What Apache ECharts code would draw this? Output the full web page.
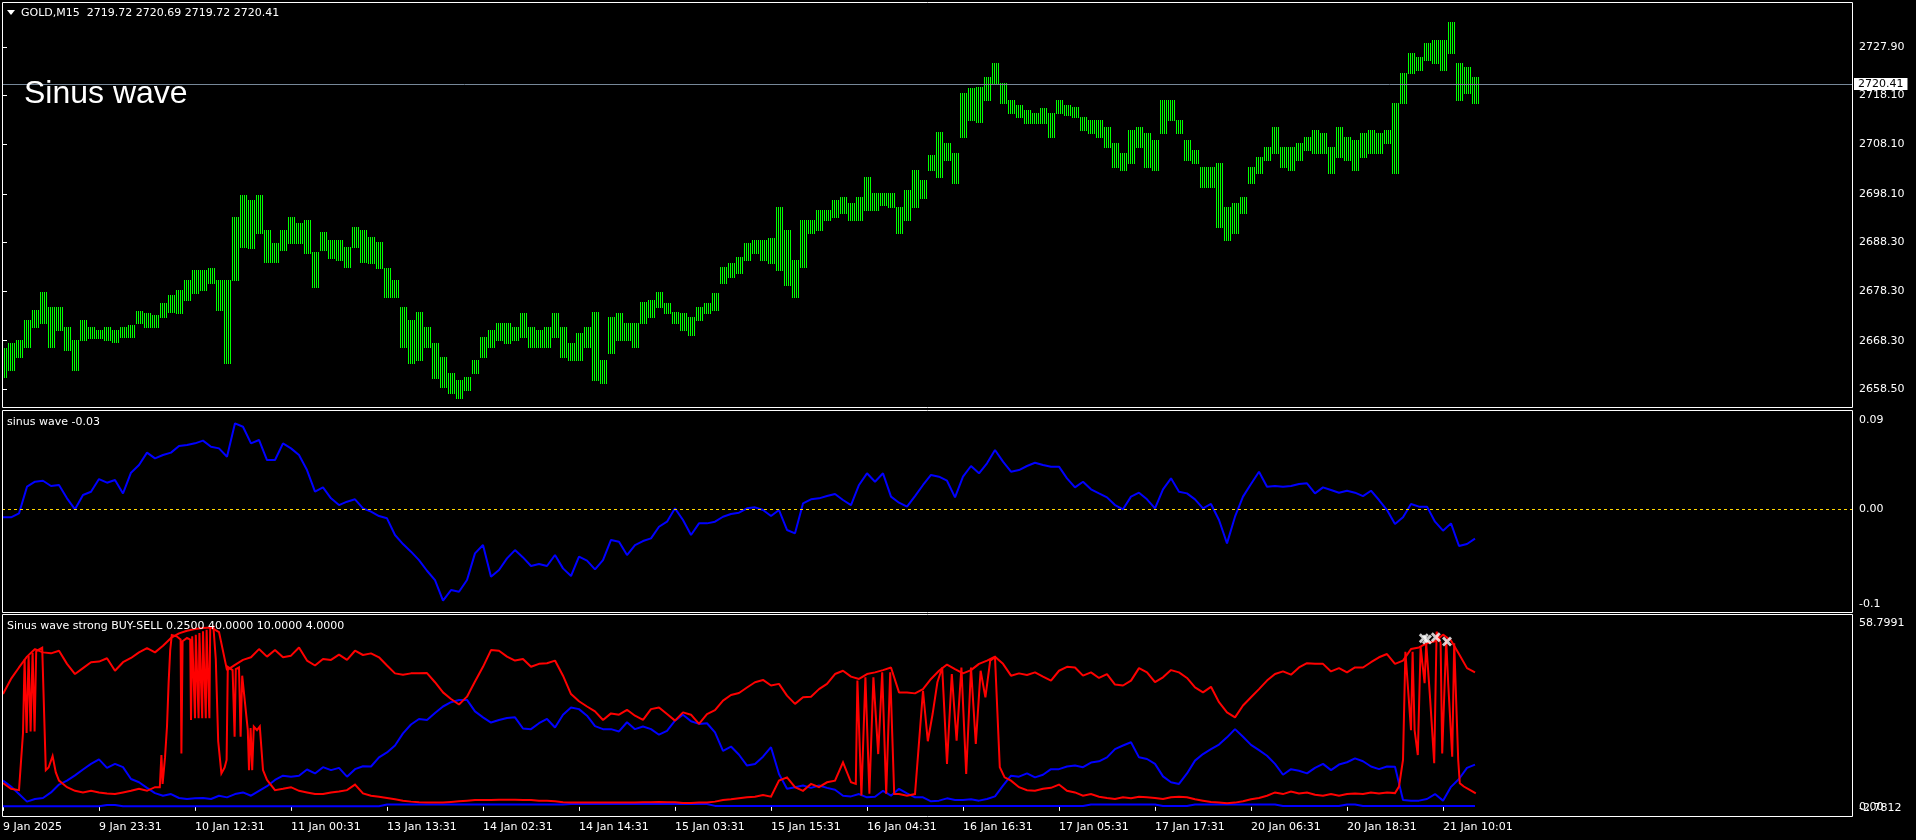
<!DOCTYPE html>
<html><head><meta charset="utf-8">
<script src="https://cdn.jsdelivr.net/npm/echarts@6.0.0/dist/echarts.min.js"></script>
<style>html,body{margin:0;padding:0;background:#000;overflow:hidden}#c{width:1916px;height:840px}</style>
</head><body><div id="c"></div>
<script>
// ---------- DATA ----------
const timeLabels = ['9 Jan 2025','9 Jan 23:31','10 Jan 12:31','11 Jan 00:31','13 Jan 13:31','14 Jan 02:31','14 Jan 14:31','15 Jan 03:31','15 Jan 15:31','16 Jan 04:31','16 Jan 16:31','17 Jan 05:31','17 Jan 17:31','20 Jan 06:31','20 Jan 18:31','21 Jan 10:01'];
const priceTicks = [2727.90, 2718.10, 2708.10, 2698.10, 2688.30, 2678.30, 2668.30, 2658.50];
const headerText = 'GOLD,M15  2719.72 2720.69 2719.72 2720.41';
const bigTitle = 'Sinus wave';
const lastPrice = 2720.41;
const priceHigh = [
2666.8,2667.8,2668.4,2672.5,2674.5,2678.2,2675.1,2675.1,2671.1,2668.4,
2672.5,2671.1,2670.5,2671.1,2670.5,2671.1,2671.5,2674.3,2673.9,2673.5,
2676.0,2677.6,2678.6,2680.6,2682.7,2682.7,2683.1,2680.6,2680.6,2693.4,
2697.9,2696.9,2697.9,2690.8,2688.1,2690.8,2693.4,2692.2,2692.8,2686.3,
2690.4,2688.7,2688.7,2687.3,2691.4,2690.8,2689.3,2688.3,2683.1,2680.6,
2675.1,2672.5,2674.1,2671.1,2667.8,2665.0,2661.8,2660.3,2660.9,2664.4,
2669.1,2670.5,2671.9,2671.9,2671.1,2673.9,2671.1,2670.5,2671.1,2673.9,
2671.1,2667.8,2669.9,2671.1,2674.1,2664.4,2673.1,2673.9,2671.9,2671.9,
2676.2,2676.6,2678.2,2676.0,2674.1,2673.9,2673.1,2675.1,2676.0,2678.0,
2683.3,2684.1,2685.3,2688.1,2688.7,2688.7,2689.2,2695.4,2690.8,2684.7,
2692.8,2692.8,2694.8,2694.8,2696.9,2697.5,2696.3,2697.5,2701.5,2698.3,
2698.3,2698.3,2695.4,2698.9,2702.9,2700.9,2706.0,2710.7,2708.4,2706.4,
2718.6,2719.6,2719.8,2721.8,2724.7,2720.6,2717.2,2716.1,2715.1,2714.5,
2715.5,2714.5,2717.2,2716.1,2715.7,2713.7,2713.1,2713.1,2711.7,2708.4,
2706.4,2711.1,2711.7,2710.5,2709.0,2717.2,2717.2,2713.1,2709.0,2707.0,
2703.6,2703.6,2704.4,2695.4,2696.3,2697.5,2703.6,2705.6,2707.6,2711.7,
2707.6,2707.6,2708.4,2709.6,2711.1,2710.5,2707.6,2711.7,2709.6,2709.0,
2710.5,2711.1,2710.5,2711.1,2716.5,2722.6,2726.7,2725.9,2728.7,2729.3,
2729.3,2733.0,2724.7,2723.8,2721.8];
const priceLow = [
2660.9,2662.4,2665.0,2667.0,2671.1,2671.9,2667.0,2670.5,2666.4,2662.4,
2668.4,2668.9,2668.9,2668.4,2668.0,2669.1,2669.1,2671.9,2671.1,2671.1,
2673.1,2674.1,2673.9,2676.6,2678.0,2678.6,2680.0,2674.5,2663.8,2680.6,
2687.3,2687.1,2690.2,2684.3,2684.3,2686.7,2688.1,2688.1,2686.1,2679.2,
2686.7,2685.1,2684.7,2683.3,2687.3,2684.3,2684.1,2683.1,2677.2,2677.2,
2667.0,2663.8,2664.4,2667.0,2660.7,2658.9,2657.7,2656.7,2658.3,2661.8,
2665.0,2667.0,2668.4,2667.8,2668.4,2669.1,2667.0,2667.0,2667.0,2669.1,
2665.0,2664.4,2664.4,2667.0,2660.3,2659.7,2665.8,2668.4,2668.4,2667.0,
2671.9,2673.1,2675.1,2673.9,2671.9,2670.5,2669.5,2672.5,2673.9,2674.5,
2680.0,2681.2,2682.0,2684.7,2686.1,2684.7,2684.1,2682.7,2679.6,2677.2,
2683.3,2690.2,2690.8,2692.8,2693.4,2694.2,2692.8,2692.8,2694.8,2694.8,
2695.8,2695.4,2690.2,2692.8,2695.4,2697.3,2702.9,2701.5,2705.0,2700.3,
2709.6,2713.1,2712.7,2717.2,2720.6,2716.5,2714.5,2713.7,2712.5,2712.5,
2712.5,2709.6,2714.5,2714.1,2713.7,2711.1,2710.5,2709.6,2707.6,2703.6,
2702.9,2704.4,2707.6,2703.6,2702.9,2710.5,2713.1,2710.5,2705.0,2704.4,
2699.5,2699.5,2691.4,2688.7,2690.2,2694.2,2700.3,2702.3,2705.0,2706.4,
2703.6,2702.9,2705.0,2707.0,2706.4,2706.4,2702.3,2705.6,2705.0,2702.9,
2705.6,2706.4,2706.4,2708.4,2702.3,2716.5,2722.6,2723.2,2725.3,2724.7,
2723.2,2726.7,2717.2,2718.6,2716.5];
const sinusWave = [
-0.0084,-0.0084,-0.0044,0.0226,0.0276,0.0286,0.0233,0.0243,0.0108,-0.0003,
0.0142,0.0175,0.0303,0.0266,0.0293,0.0158,0.0367,0.0445,0.0570,0.0512,
0.0546,0.0570,0.0637,0.0647,0.0664,0.0691,0.0630,0.0613,0.0529,0.0866,
0.0832,0.0664,0.0698,0.0495,0.0495,0.0664,0.0613,0.0546,0.0394,0.0175,
0.0219,0.0108,0.0040,0.0074,0.0098,0.0007,-0.0027,-0.0071,-0.0094,-0.0263,
-0.0354,-0.0431,-0.0516,-0.0624,-0.0718,-0.0927,-0.0819,-0.0836,-0.0718,-0.0448,
-0.0364,-0.0684,-0.0617,-0.0499,-0.0415,-0.0489,-0.0576,-0.0556,-0.0576,-0.0465,
-0.0600,-0.0677,-0.0482,-0.0522,-0.0610,-0.0516,-0.0313,-0.0330,-0.0465,-0.0364,
-0.0324,-0.0297,-0.0179,-0.0128,0.0007,-0.0111,-0.0263,-0.0145,-0.0145,-0.0128,
-0.0078,-0.0051,-0.0037,0.0007,0.0017,-0.0010,-0.0071,-0.0010,-0.0212,-0.0246,
0.0057,0.0098,0.0108,0.0131,0.0152,0.0091,0.0040,0.0243,0.0361,0.0276,
0.0361,0.0125,0.0064,0.0024,0.0131,0.0243,0.0344,0.0327,0.0286,0.0118,
0.0327,0.0435,0.0361,0.0462,0.0597,0.0479,0.0377,0.0394,0.0435,0.0468,
0.0445,0.0428,0.0428,0.0310,0.0219,0.0276,0.0199,0.0158,0.0118,0.0040,
-0.0003,0.0125,0.0165,0.0098,0.0007,0.0199,0.0310,0.0175,0.0158,0.0098,
0.0007,0.0051,-0.0111,-0.0347,-0.0078,0.0125,0.0253,0.0377,0.0226,0.0233,
0.0226,0.0233,0.0253,0.0260,0.0158,0.0219,0.0192,0.0165,0.0185,0.0165,
0.0131,0.0185,0.0091,-0.0010,-0.0152,-0.0084,0.0051,0.0024,0.0024,-0.0128,
-0.0219,-0.0145,-0.0374,-0.0354,-0.0300];
const sinusTitle = 'sinus wave';
const sinusLabels = ['0.09','0.00','-0.1'];
const sinusLabelValues = [0.09, 0, -0.1];
const lowerTitle = 'Sinus wave strong BUY-SELL 0.2500 40.0000 10.0000 4.0000';
const lowerLabels = ['58.7991','0.00','-2.7812'];
const lowerLabelValues = [58.7991, 0, -2.7812];
const sellStrong = [
34.4,39.0,42.5,45.8,48.1,47.1,46.8,47.6,43.6,40.5,
42.3,44.1,44.3,45.3,41.5,44.1,45.4,47.1,48.4,47.1,
49.1,51.5,52.9,53.7,54.2,54.5,54.7,53.3,41.7,43.3,
44.8,45.6,48.1,45.8,47.8,45.6,46.1,48.6,44.6,43.1,
45.1,44.8,46.4,44.8,47.6,46.3,46.8,45.6,43.1,40.7,
40.3,40.7,40.7,40.8,38.0,34.9,32.9,31.2,33.6,38.2,
42.7,47.8,47.6,45.8,44.6,45.1,42.7,43.6,43.8,44.6,
40.0,34.4,32.2,30.6,29.1,26.5,28.5,28.1,29.6,27.8,
26.5,29.8,30.3,28.3,26.3,28.8,28.1,25.3,28.3,29.5,
32.4,34.1,34.7,36.4,38.0,38.7,37.0,37.5,33.9,31.4,
33.4,33.6,35.9,37.5,40.5,41.5,39.7,39.0,40.5,41.0,
41.7,42.5,34.9,34.9,34.6,35.9,39.0,41.5,43.4,42.0,
40.7,41.7,43.6,44.6,45.8,43.6,40.0,40.7,40.2,41.0,
39.7,38.5,41.5,42.7,42.5,40.0,41.0,39.3,40.5,37.3,
37.0,38.5,42.3,41.0,38.0,39.5,41.7,41.0,39.3,36.4,
34.9,36.6,31.9,28.8,27.3,30.9,33.4,35.9,38.5,40.5,
41.3,40.3,42.5,43.8,43.6,43.6,41.3,42.3,41.0,42.5,
42.5,44.1,45.6,46.6,43.6,44.6,48.1,48.6,49.9,50.5,
52.5,50.7,46.6,42.3,41.0];
// fast sell line: [bar position, value]; denser readings where it whipsaws
const sellFastPts = [
[0,7.3],[1,5.5],[2,5.1],[2.25,5.0],[2.5,22.5],[2.7,45.0],[2.95,22.5],[3.2,46.0],[3.45,23.0],[3.7,47.0],
[3.95,23.0],[4.15,47.5],[4.9,48.5],[5.0,49.0],[5.35,11.2],[5.7,12.0],[6.2,15.5],[6.6,10.5],[7,8.0],[8,6.0],
[9,4.9],[10,4.4],[11,4.9],[12,4.4],[13,4.1],[14,3.9],[15,4.4],[16,4.9],[17,5.5],[18,4.9],
[19,6.0],[19.6,6.0],[19.8,15.8],[19.95,7.0],[20.25,15.0],[20.5,24.5],[20.7,37.7],[20.9,47.8],[21.1,52.4],[21.7,52.0],
[22.2,51.0],[22.3,16.3],[22.45,50.5],[23.0,51.5],[23.4,51.0],[23.5,26.5],[23.65,52.0],[24.0,27.0],[24.1,52.5],[24.45,27.0],
[24.55,53.0],[24.9,27.0],[25.0,53.5],[25.35,27.0],[25.45,54.0],[25.8,27.0],[25.9,54.5],[26.3,54.9],[26.6,45.0],[26.9,20.0],
[27.3,10.2],[27.7,12.0],[27.95,14.3],[28.1,42.7],[28.7,41.7],[28.95,21.4],[29.1,42.0],[29.5,42.5],[29.7,21.4],[29.9,40.0],
[30.6,23.4],[30.75,11.2],[30.95,24.0],[31.15,11.2],[31.35,24.5],[31.75,23.4],[32.1,24.5],[32.5,11.2],[33,8.2],[34,5.1],
[35,5.5],[36,6.0],[37,4.9],[38,4.4],[39,3.9],[40,3.9],[41,4.4],[42,4.7],[43,5.1],[44,6.8],
[45,4.1],[46,3.4],[47,3.1],[48,2.7],[49,2.3],[50,1.9],[51,1.6],[52,1.4],[53,1.3],[54,1.3],
[55,1.3],[56,1.5],[57,1.7],[58,1.9],[59,2.1],[60,2.1],[61,2.1],[62,2.2],[63,2.2],[64,2.2],
[65,2.1],[66,2.1],[67,1.9],[68,1.9],[69,1.7],[70,1.4],[71,1.3],[72,1.3],[73,1.3],[74,1.3],
[75,1.3],[76,1.3],[77,1.3],[78,1.3],[79,1.3],[80,1.4],[81,1.4],[82,1.5],[83,1.4],[84,1.4],
[85,1.2],[86,1.2],[87,1.3],[88,1.3],[89,1.6],[90,2.1],[91,2.3],[92,2.6],[93,2.9],[94,3.1],
[95,3.6],[96,3.1],[97,8.0],[98,9.0],[99,6.0],[100,4.9],[101,7.0],[102,6.0],[103,7.5],[104,8.0],
[105,13.6],[106,7.5],[106.6,7.0],[106.8,38.5],[107.3,3.5],[107.8,39.5],[108.3,4.0],[108.8,39.5],[109.4,16.1],[109.9,41.0],
[110.4,4.0],[110.9,41.0],[111.4,3.9],[112,3.9],[113,3.4],[114,3.9],[115,35.4],[115.6,20.0],[116.2,28.3],[116.8,38.0],
[117.4,42.5],[118,13.1],[118.6,40.5],[119.2,20.2],[119.8,42.5],[120.4,10.0],[121,42.5],[121.6,19.2],[122.2,41.5],[122.8,33.4],
[123.4,44.6],[124,45.6],[124.6,12.1],[125.2,9.0],[126,8.0],[127,6.0],[128,5.1],[129,4.9],[130,5.5],[131,5.8],
[132,6.8],[133,4.9],[134,4.4],[135,3.4],[136,3.9],[137,3.1],[138,2.7],[139,2.4],[140,2.9],[141,2.6],
[142,3.1],[143,2.9],[144,2.7],[145,2.4],[146,2.9],[147,3.1],[148,2.9],[149,2.3],[150,1.9],[151,1.5],
[152,1.3],[153,1.1],[154,1.3],[155,1.7],[156,2.3],[157,2.7],[158,3.4],[159,4.4],[160,3.9],[161,4.7],
[162,4.1],[163,4.4],[164,3.7],[165,3.4],[166,3.9],[167,3.4],[168,3.9],[169,4.1],[170,3.9],[171,4.4],
[172,4.1],[173,4.4],[174,4.2],[174.5,6.2],[175,14.3],[175.3,47.3],[175.5,47.0],[176,23.4],[176.2,47.3],[176.45,23.4],
[176.85,15.8],[177.2,48.8],[177.7,37.7],[177.9,49.9],[178.4,32.6],[178.9,13.3],[179.2,53.4],[179.7,50.0],[179.9,16.3],[180.4,50.9],
[180.65,37.7],[181.15,15.3],[181.4,49.9],[181.9,14.3],[182.1,7.2],[182.6,6.2],[183.4,5.1],[184.1,4.1]];
const buyStrong = [
8.0,6.2,3.9,1.6,2.4,2.7,4.4,6.8,8.0,9.6,
11.4,13.1,14.5,11.9,13.1,12.1,8.5,7.5,5.8,4.2,
3.4,3.9,2.7,2.4,2.6,2.7,2.4,3.4,2.9,3.9,
4.4,3.4,4.9,6.3,8.2,9.5,9.2,9.5,11.4,10.2,
12.1,11.2,11.9,9.2,11.5,12.4,12.3,15.1,16.6,18.7,
22.4,25.1,26.8,26.5,28.6,30.6,31.9,32.6,32.6,29.1,
27.3,25.7,26.5,27.1,27.3,23.9,23.7,25.5,26.8,24.2,
28.1,30.3,29.8,27.8,24.6,23.7,23.7,23.0,25.8,23.7,
24.5,23.7,22.0,23.2,26.3,28.1,26.1,25.3,25.5,22.7,
17.1,18.4,15.9,12.6,13.1,15.3,18.2,10.0,5.5,6.0,
6.5,5.8,6.5,5.8,5.2,3.4,3.2,3.9,2.9,3.1,
4.9,3.4,5.5,4.1,2.9,2.9,1.7,1.9,2.6,2.1,
2.1,2.3,1.9,2.4,3.2,6.5,9.5,9.2,10.2,9.0,
9.8,11.5,11.5,12.3,12.6,12.1,13.5,13.9,15.1,17.6,
18.7,19.7,15.1,14.6,13.1,9.3,7.5,7.0,10.2,14.1,
16.1,17.6,19.0,21.2,23.7,21.4,18.9,17.3,15.6,13.1,
9.8,11.5,11.0,10.2,11.9,13.1,11.2,12.9,13.6,14.8,
13.9,12.3,11.5,12.3,12.2,2.1,1.9,1.9,2.4,3.9,
1.9,6.1,8.5,11.9,12.9];
const buyBase = [
0.2,0.2,0.2,0.2,0.2,0.2,0.2,0.2,0.2,0.2,
0.2,0.2,0.2,0.6,0.6,0.2,0.2,0.2,0.2,0.2,
0.2,0.2,0.2,0.2,0.2,0.2,0.2,0.2,0.2,0.2,
0.2,0.2,0.2,0.2,0.2,0.2,0.2,0.2,0.2,0.2,
0.2,0.2,0.2,0.2,0.2,0.2,0.2,0.2,0.7,0.7,
0.7,0.7,0.7,0.7,0.7,0.7,0.7,0.7,0.7,0.7,
0.7,0.7,0.7,0.7,0.7,0.7,0.7,0.7,0.7,0.7,
0.7,0.9,0.9,0.9,0.9,0.9,0.9,0.9,0.9,0.9,
0.9,0.9,0.9,0.9,0.9,0.9,0.9,0.9,0.9,0.3,
0.3,0.3,0.3,0.3,0.3,0.3,0.3,0.3,0.3,0.3,
0.3,0.3,0.3,0.3,0.3,0.3,0.3,0.3,0.3,0.3,
0.3,0.3,0.3,0.3,0.3,0.3,0.3,0.3,0.3,0.3,
0.3,0.3,0.3,0.3,0.3,0.3,0.3,0.3,0.3,0.3,
0.3,0.3,0.3,0.3,0.3,0.3,0.7,0.7,0.7,0.7,
0.7,0.7,0.7,0.7,0.7,0.3,0.3,0.3,0.3,0.7,
0.7,0.7,0.7,0.7,0.7,0.7,0.7,0.7,0.7,0.7,
0.3,0.3,0.3,0.3,0.3,0.3,0.3,0.3,0.7,0.7,
0.3,0.3,0.3,0.3,0.3,0.3,0.3,0.3,0.3,0.3,
0.3,0.3,0.3,0.3,0.3];
const signalPos = [177.6, 178.0, 179.1, 180.5];
const signalVal = [51.4, 51.0, 51.7, 50.4];

// ---------- CHART ----------
const FONT = '"DejaVu Sans", Verdana, sans-serif';
const N = priceHigh.length;
const XMIN = -0.125, XMAX = -0.125 + 1850 / 8;
const tickIdx = timeLabels.map((_, k) => k * 12);
const grids = [
  {left: 2, top: 2, width: 1850, height: 405},
  {left: 2, top: 410, width: 1850, height: 202},
  {left: 2, top: 614, width: 1850, height: 202}
];
const yRanges = [[2654.85, 2737.03], [-0.1041, 0.1001], [-2.7812, 58.7991]];

function xAxisFor(i) {
  const base = {gridIndex: i, type: 'value', min: XMIN, max: XMAX,
    axisLine: {show: false}, splitLine: {show: false}, axisTick: {show: false}, axisLabel: {show: false}};
  if (i === 2) {
    base.axisTick = {show: true, customValues: tickIdx, length: 4, lineStyle: {color: '#fff', width: 1}};
    base.axisLabel = {show: true, customValues: tickIdx, align: 'left', margin: 6,
      color: '#fff', fontSize: 11, fontFamily: FONT,
      formatter: v => timeLabels[Math.round(v / 12)] || ''};
  }
  return base;
}
function yAxisFor(i) {
  const base = {gridIndex: i, type: 'value', position: 'right', min: yRanges[i][0], max: yRanges[i][1],
    axisLine: {show: false}, splitLine: {show: false}, axisTick: {show: false}, axisLabel: {show: false}};
  if (i === 0) {
    base.axisTick = {show: true, customValues: priceTicks, length: 4, lineStyle: {color: '#fff'}};
    base.axisLabel = {show: true, customValues: priceTicks, margin: 7, color: '#fff',
      fontSize: 11, fontFamily: FONT, formatter: v => v.toFixed(2)};
  }
  return base;
}

const xPath = 'path://M0,2L2,0L5,3L8,0L10,2L7,5L10,8L8,10L5,7L2,10L0,8L3,5Z';
const lineBase = {symbol: 'none', showSymbol: false, silent: true};

const option = {
  backgroundColor: '#000',
  animation: false,
  grid: grids,
  xAxis: [0, 1, 2].map(xAxisFor),
  yAxis: [0, 1, 2].map(yAxisFor),
  series: [
    {
      type: 'custom', xAxisIndex: 0, yAxisIndex: 0, clip: true, silent: true,
      data: priceHigh.map((h, i) => [i, h, priceLow[i]]),
      encode: {x: 0, y: [1, 2]},
      renderItem: function (params, api) {
        const top = api.coord([api.value(0), api.value(1)]);
        const bot = api.coord([api.value(0), api.value(2)]);
        const cx = Math.round(top[0]);
        const children = [];
        [-3, -1, 1, 3].forEach(dx => {
          children.push({type: 'line',
            shape: {x1: cx + dx + 0.5, y1: Math.round(top[1]), x2: cx + dx + 0.5, y2: Math.round(bot[1]) + 1},
            style: {stroke: '#00ff00', lineWidth: 1}});
        });
        return {type: 'group', children};
      }
    },
    Object.assign({
      type: 'line', xAxisIndex: 0, yAxisIndex: 0, data: [[N - 1, lastPrice]], lineStyle: {opacity: 0},
      markLine: {
        silent: true, symbol: ['none', 'none'],
        lineStyle: {color: '#778899', width: 1, type: 'solid'},
        label: {show: true, position: 'end', distance: 2, formatter: () => lastPrice.toFixed(2),
          color: '#000', backgroundColor: '#fff', padding: [1, 4, 0, 4], fontSize: 11, fontFamily: FONT},
        data: [{yAxis: lastPrice}]
      }
    }, lineBase),
    Object.assign({
      type: 'line', xAxisIndex: 1, yAxisIndex: 1, data: sinusWave.map((v, i) => [i, v]),
      lineStyle: {color: '#0000ff', width: 2}, itemStyle: {color: '#0000ff'},
      markLine: {
        silent: true, symbol: ['none', 'none'],
        lineStyle: {color: '#ffd700', width: 1, type: [3, 3]},
        label: {show: false},
        data: [{yAxis: 0}]
      }
    }, lineBase),
    Object.assign({type: 'line', xAxisIndex: 2, yAxisIndex: 2, data: buyBase.map((v, i) => [i, v]),
      lineStyle: {color: '#0000ff', width: 2}}, lineBase),
    Object.assign({type: 'line', xAxisIndex: 2, yAxisIndex: 2, data: buyStrong.map((v, i) => [i, v]),
      lineStyle: {color: '#0000ff', width: 2}}, lineBase),
    Object.assign({type: 'line', xAxisIndex: 2, yAxisIndex: 2, data: sellFastPts,
      lineStyle: {color: '#ff0000', width: 2, join: 'miter', miterLimit: 4}}, lineBase),
    Object.assign({type: 'line', xAxisIndex: 2, yAxisIndex: 2, data: sellStrong.map((v, i) => [i, v]),
      lineStyle: {color: '#ff0000', width: 2}}, lineBase),
    {type: 'scatter', xAxisIndex: 2, yAxisIndex: 2, data: signalPos.map((x, k) => [x, signalVal[k]]),
      symbol: xPath, symbolSize: 10, itemStyle: {color: '#fff'}, z: 5, silent: true}
  ]
};

const chart = echarts.init(document.getElementById('c'), null, {renderer: 'canvas'});
chart.setOption(option);

// overlay texts and borders
const gfx = [];
grids.forEach(g => {
  gfx.push({type: 'rect', z: 100, silent: true,
    shape: {x: g.left + 0.5, y: g.top + 0.5, width: g.width, height: g.height},
    style: {fill: null, stroke: '#fff', lineWidth: 1}});
});
gfx.push({type: 'polygon', z: 100, shape: {points: [[7, 10], [15, 10], [11, 15]]}, style: {fill: '#fff'}});
gfx.push({type: 'text', z: 100, x: 21, y: 13, style: {text: headerText, fill: '#fff', font: '11px ' + FONT, align: 'left', verticalAlign: 'middle'}});
gfx.push({type: 'text', z: 100, x: 24, y: 94, style: {text: bigTitle, fill: '#fff', font: '32px "Liberation Sans", Arial, sans-serif', align: 'left', verticalAlign: 'middle'}});
gfx.push({type: 'text', z: 100, x: 7, y: 422, style: {text: sinusTitle + ' ' + sinusWave[N - 1].toFixed(2), fill: '#fff', font: '11px ' + FONT, align: 'left', verticalAlign: 'middle'}});
gfx.push({type: 'text', z: 100, x: 7, y: 626, style: {text: lowerTitle, fill: '#fff', font: '11px ' + FONT, align: 'left', verticalAlign: 'middle'}});
function sideLabels(gridIndex, labels, values) {
  const g = grids[gridIndex];
  labels.forEach((t, k) => {
    let y = chart.convertToPixel({gridIndex}, [0, values[k]])[1];
    y = Math.max(g.top + 9, Math.min(g.top + g.height - 8, y));
    gfx.push({type: 'text', z: 100, x: g.left + g.width + 7, y: y,
      style: {text: t, fill: '#fff', font: '11px ' + FONT, align: 'left', verticalAlign: 'middle'}});
  });
}
sideLabels(1, sinusLabels, sinusLabelValues);
sideLabels(2, lowerLabels, lowerLabelValues);
chart.setOption({graphic: gfx});
</script>
</body></html>
